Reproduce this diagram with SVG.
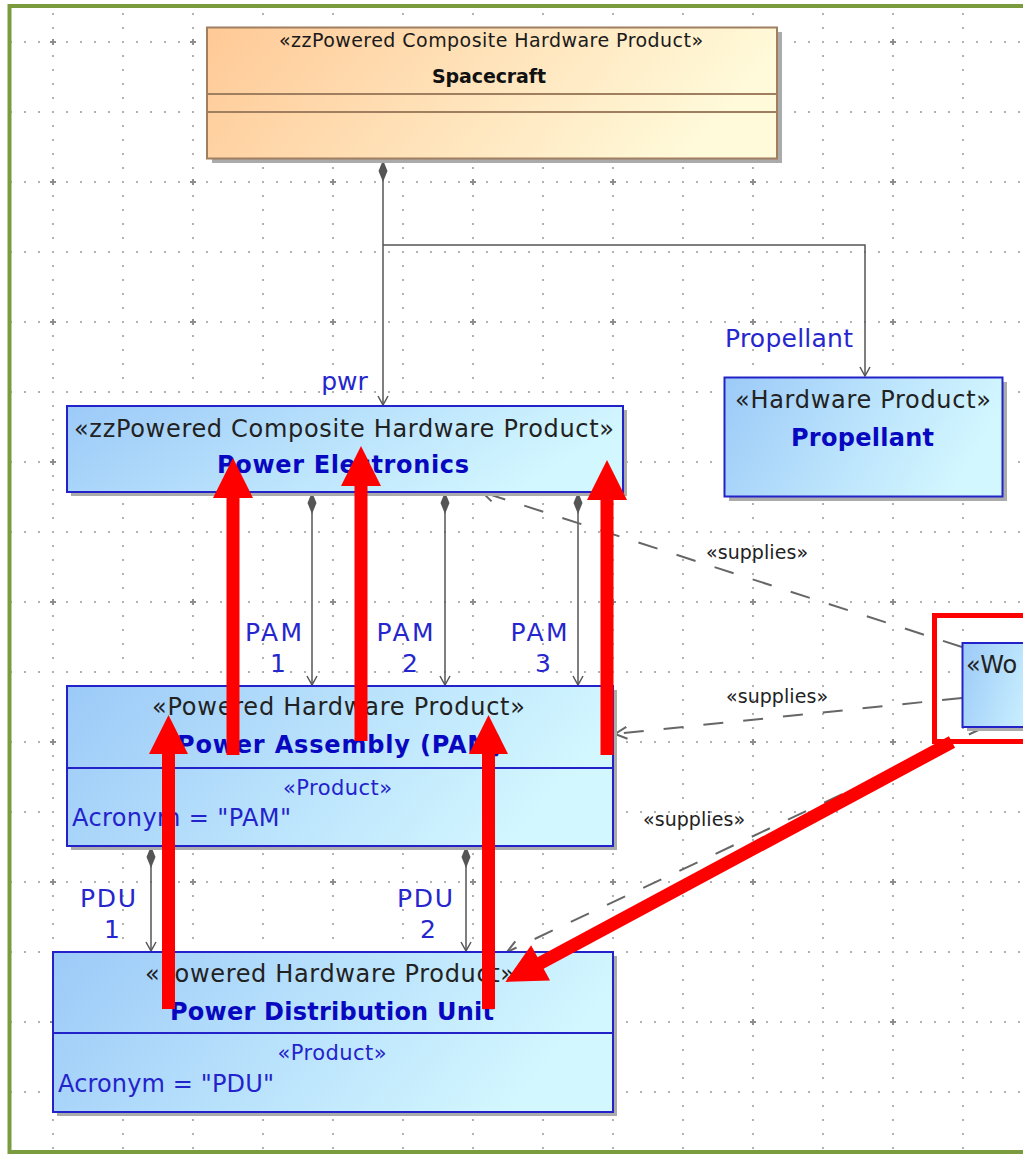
<svg xmlns="http://www.w3.org/2000/svg" width="1023" height="1155" viewBox="0 0 1023 1155">
  <style>
    text { font-family: "DejaVu Sans", "Liberation Sans", sans-serif; }
    .s1 { font-size: 19px; fill: #1a1a1a; text-anchor: middle; }
    .s1b { font-size: 19px; font-weight: bold; fill: #111; text-anchor: middle; }
    .st { font-size: 24px; fill: #222; text-anchor: middle; }
    .nm { font-size: 24px; font-weight: bold; fill: #0808C0; text-anchor: middle; }
    .pr { font-size: 21px; fill: #2323CC; text-anchor: middle; }
    .ac { font-size: 24px; fill: #2323CC; }
    .lb { font-size: 25px; fill: #2626CE; text-anchor: middle; }
    .sp { font-size: 19px; fill: #222; }
    .box { fill: url(#blue); stroke: #2222C8; stroke-width: 2; }
    .shadow { fill: #ABABAB; }
    .comp { fill: none; stroke: #555; stroke-width: 1.5; }
    .dep { fill: none; stroke: #666; stroke-width: 2; stroke-dasharray: 20 20; }
    .red { fill: #FF0000; }
  </style>
  <defs>
    <linearGradient id="blue" x1="0" y1="0" x2="1" y2="0.25">
      <stop offset="0" stop-color="#9CCAF8"/>
      <stop offset="1" stop-color="#D3F7FF"/>
    </linearGradient>
    <linearGradient id="orange" x1="0" y1="0" x2="1" y2="0.2">
      <stop offset="0" stop-color="#FFC996"/>
      <stop offset="1" stop-color="#FFFADA"/>
    </linearGradient>
    <!-- dotted drawing grid: a row and a column of dots every 70px -->
    <pattern id="grid" x="52" y="41" width="70" height="70" patternUnits="userSpaceOnUse">
      <g fill="#B2B2B2">
        <rect x="0" y="0" width="2" height="2"/>
        <rect x="14" y="0" width="2" height="2"/>
        <rect x="28" y="0" width="2" height="2"/>
        <rect x="42" y="0" width="2" height="2"/>
        <rect x="56" y="0" width="2" height="2"/>
        <rect x="0" y="14" width="2" height="2"/>
        <rect x="0" y="28" width="2" height="2"/>
        <rect x="0" y="42" width="2" height="2"/>
        <rect x="0" y="56" width="2" height="2"/>
      </g>
    </pattern>
    <pattern id="cross" x="50" y="39" width="140" height="140" patternUnits="userSpaceOnUse">
      <g fill="#8E8E8E">
        <rect x="0" y="2" width="6" height="2"/>
        <rect x="2" y="0" width="2" height="6"/>
      </g>
    </pattern>
    <marker id="diamond" markerUnits="userSpaceOnUse" markerWidth="24" markerHeight="12" refX="0" refY="6" orient="auto" overflow="visible">
      <path d="M0,6 L11,1.5 L22,6 L11,10.5 Z" fill="#555"/>
    </marker>
    <marker id="open" markerUnits="userSpaceOnUse" markerWidth="12" markerHeight="12" refX="10" refY="6" orient="auto" overflow="visible">
      <path d="M1,1 L10,6 L1,11" fill="none" stroke="#555" stroke-width="1.5"/>
    </marker>
    <marker id="openDep" markerUnits="userSpaceOnUse" markerWidth="14" markerHeight="14" refX="13" refY="7" orient="auto" overflow="visible">
      <path d="M1,1 L13,7 L1,13" fill="none" stroke="#666" stroke-width="2"/>
    </marker>
  </defs>

  <!-- frame and grid -->
  <rect x="0" y="0" width="1023" height="1155" fill="#FFFFFF"/>
  <rect x="11" y="8" width="1012" height="1142" fill="url(#grid)"/>
  <rect x="11" y="8" width="1012" height="1142" fill="url(#cross)"/>
  <rect x="9.5" y="6" width="1050" height="1146" fill="none" stroke="#7B9B3F" stroke-width="4"/>

  <!-- connectors -->
  <g id="connectors">
    <path class="comp" d="M383,160 V405" marker-start="url(#diamond)" marker-end="url(#open)"/>
    <path class="comp" d="M383,245 H865 V376" marker-end="url(#open)"/>
    <path class="comp" d="M312,492 V685" marker-start="url(#diamond)" marker-end="url(#open)"/>
    <path class="comp" d="M445,492 V685" marker-start="url(#diamond)" marker-end="url(#open)"/>
    <path class="comp" d="M578,492 V685" marker-start="url(#diamond)" marker-end="url(#open)"/>
    <path class="comp" d="M151,846 V951" marker-start="url(#diamond)" marker-end="url(#open)"/>
    <path class="comp" d="M466,846 V951" marker-start="url(#diamond)" marker-end="url(#open)"/>
    <path class="dep" d="M962,647 L482,492" marker-end="url(#openDep)"/>
    <path class="dep" d="M962,698 L615,734" marker-end="url(#openDep)"/>
    <path class="dep" d="M987,726 L507,952" marker-end="url(#openDep)"/>
    <text class="lb" x="344.5" y="390">pwr</text>
    <text class="lb" x="789" y="347" textLength="128">Propellant</text>
    <text class="lb" x="273.5" y="641" textLength="57">PAM</text>
    <text class="lb" x="278" y="672">1</text>
    <text class="lb" x="405" y="641" textLength="57">PAM</text>
    <text class="lb" x="410" y="672">2</text>
    <text class="lb" x="539" y="641" textLength="57">PAM</text>
    <text class="lb" x="543" y="672">3</text>
    <text class="lb" x="108" y="907" textLength="56">PDU</text>
    <text class="lb" x="112" y="938">1</text>
    <text class="lb" x="425" y="907" textLength="56">PDU</text>
    <text class="lb" x="428" y="938">2</text>
    <text class="sp" x="706" y="559" textLength="102">«supplies»</text>
    <text class="sp" x="726" y="703" textLength="102">«supplies»</text>
    <text class="sp" x="643" y="826" textLength="102">«supplies»</text>
  </g>

  <!-- Spacecraft -->
  <g id="spacecraft">
    <rect class="shadow" x="212" y="32" width="570" height="131"/>
    <rect x="207" y="27.5" width="570" height="131" fill="url(#orange)" stroke="#9F7F60" stroke-width="2"/>
    <line x1="207" y1="94" x2="777" y2="94" stroke="#9F7F60" stroke-width="2"/>
    <line x1="207" y1="112" x2="777" y2="112" stroke="#9F7F60" stroke-width="2"/>
    <text class="s1" x="491" y="47" textLength="424">«zzPowered Composite Hardware Product»</text>
    <text class="s1b" x="489" y="83" textLength="114">Spacecraft</text>
  </g>

  <!-- Power Electronics -->
  <g id="power-electronics">
    <rect class="shadow" x="71" y="410" width="556" height="86"/>
    <rect class="box" x="67" y="406" width="556" height="86"/>
    <text class="st" x="344" y="437" textLength="540">«zzPowered Composite Hardware Product»</text>
    <text class="nm" x="343" y="473" textLength="252">Power Electronics</text>
  </g>

  <!-- Propellant -->
  <g id="propellant">
    <rect class="shadow" x="729" y="382" width="278" height="119"/>
    <rect class="box" x="724.5" y="377.5" width="278" height="119"/>
    <text class="st" x="863" y="408" textLength="256">«Hardware Product»</text>
    <text class="nm" x="862.5" y="446" textLength="143">Propellant</text>
  </g>

  <!-- Power Assembly (PAM) -->
  <g id="pam">
    <rect class="shadow" x="71" y="690" width="546" height="160"/>
    <rect class="box" x="67" y="686" width="546" height="160"/>
    <line x1="67" y1="768" x2="613" y2="768" stroke="#2222C8" stroke-width="2"/>
    <text class="st" x="338.5" y="715" textLength="373">«Powered Hardware Product»</text>
    <text class="nm" x="340" y="753" textLength="326">Power Assembly (PAM)</text>
    <text class="pr" x="337.5" y="795" textLength="109">«Product»</text>
    <text class="ac" x="72" y="826" textLength="219">Acronym = "PAM"</text>
  </g>

  <!-- Power Distribution Unit -->
  <g id="pdu">
    <rect class="shadow" x="57" y="956" width="560" height="160"/>
    <rect class="box" x="53" y="952" width="560" height="160"/>
    <line x1="53" y1="1033" x2="613" y2="1033" stroke="#2222C8" stroke-width="2"/>
    <text class="st" x="330" y="982" textLength="370">«Powered Hardware Product»</text>
    <text class="nm" x="332" y="1020" textLength="324">Power Distribution Unit</text>
    <text class="pr" x="332" y="1060" textLength="109">«Product»</text>
    <text class="ac" x="58" y="1092" textLength="216">Acronym = "PDU"</text>
  </g>

  <!-- supplier block at the right edge -->
  <g id="work-product">
    <rect class="shadow" x="967" y="647" width="100" height="84"/>
    <rect class="box" x="962.5" y="643" width="100" height="84"/>
    <text class="st" x="966" y="673" style="text-anchor:start">«Wo</text>
  </g>

  <!-- highlight marks -->
  <g id="highlights">
    <rect x="934.5" y="615.5" width="200" height="126" fill="none" stroke="#FF0000" stroke-width="5"/>
    <polygon class="red" points="226.5,755 226.5,498 213,498 233,458 253,498 239.5,498 239.5,755"/>
    <polygon class="red" points="354.5,741 354.5,486 341,486 361,446 381,486 367.5,486 367.5,741"/>
    <polygon class="red" points="600.5,755 600.5,500 587,500 607,460 627,500 613.5,500 613.5,755"/>
    <polygon class="red" points="162,1009 162,754 149,754 168.5,715 188,754 175,754 175,1009"/>
    <polygon class="red" points="482,1009 482,754 469,754 488.5,715 508,754 495,754 495,1009"/>
    <polygon class="red" transform="translate(952,742) rotate(151.76)" points="0,-6.5 467,-6.5 467,-20 507,0 467,20 467,6.5 0,6.5"/>
  </g>
</svg>
